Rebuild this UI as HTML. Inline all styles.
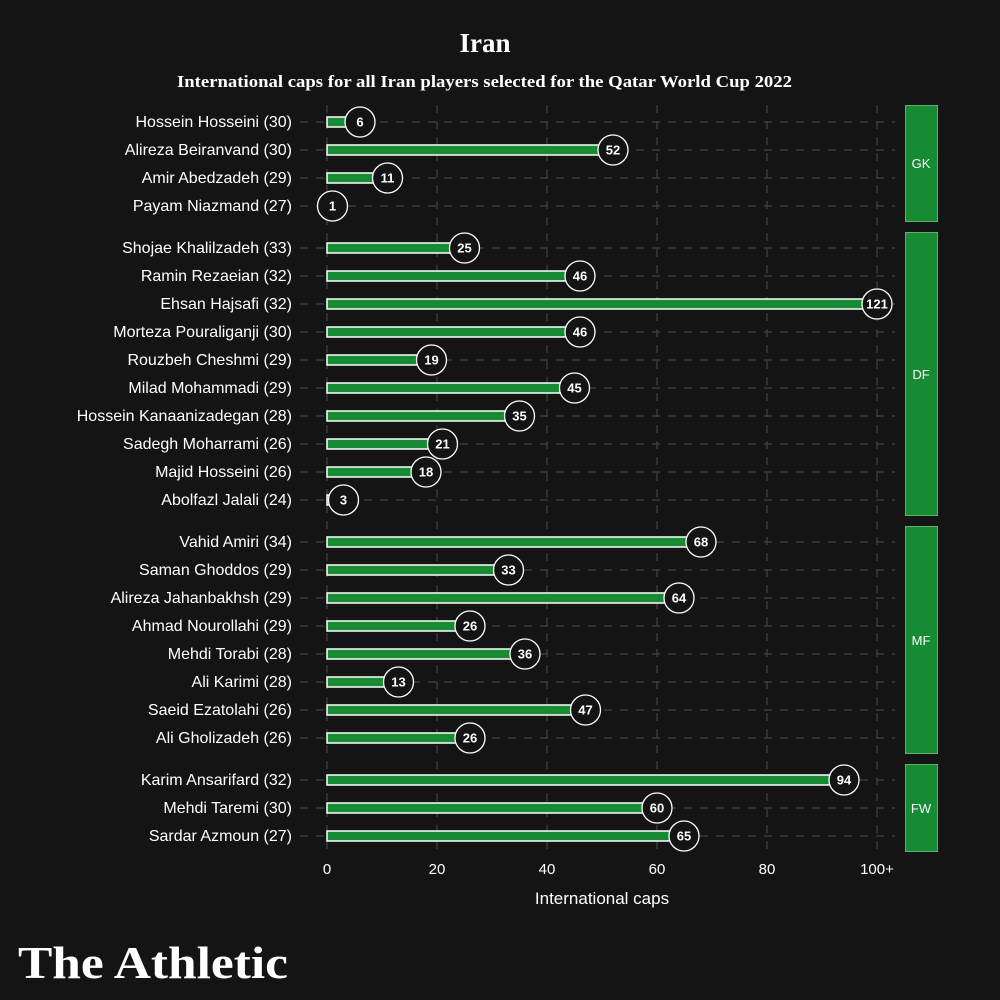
<!DOCTYPE html>
<html><head><meta charset="utf-8"><style>
body{margin:0;background:#141414;}
svg{display:block}
</style></head><body>
<svg width="1000" height="1000" xmlns="http://www.w3.org/2000/svg" font-family="Liberation Sans, sans-serif">
<rect width="1000" height="1000" fill="#141414"/>
<text x="485" y="52" fill="#fff" font-family="Liberation Serif, serif" font-weight="bold" font-size="27" text-anchor="middle">Iran</text>
<text x="177" y="87" fill="#fff" font-family="Liberation Serif, serif" font-weight="bold" font-size="17" textLength="615" lengthAdjust="spacingAndGlyphs">International caps for all Iran players selected for the Qatar World Cup 2022</text>
<g stroke="#444" stroke-width="1.2" stroke-dasharray="8,8">
<line x1="327" y1="105" x2="327" y2="852"/><line x1="437" y1="105" x2="437" y2="852"/><line x1="547" y1="105" x2="547" y2="852"/><line x1="657" y1="105" x2="657" y2="852"/><line x1="767" y1="105" x2="767" y2="852"/><line x1="877" y1="105" x2="877" y2="852"/>
<line x1="300" y1="122" x2="895" y2="122"/><line x1="300" y1="150" x2="895" y2="150"/><line x1="300" y1="178" x2="895" y2="178"/><line x1="300" y1="206" x2="895" y2="206"/>
<line x1="300" y1="248" x2="895" y2="248"/><line x1="300" y1="276" x2="895" y2="276"/><line x1="300" y1="304" x2="895" y2="304"/><line x1="300" y1="332" x2="895" y2="332"/><line x1="300" y1="360" x2="895" y2="360"/><line x1="300" y1="388" x2="895" y2="388"/><line x1="300" y1="416" x2="895" y2="416"/><line x1="300" y1="444" x2="895" y2="444"/><line x1="300" y1="472" x2="895" y2="472"/><line x1="300" y1="500" x2="895" y2="500"/>
<line x1="300" y1="542" x2="895" y2="542"/><line x1="300" y1="570" x2="895" y2="570"/><line x1="300" y1="598" x2="895" y2="598"/><line x1="300" y1="626" x2="895" y2="626"/><line x1="300" y1="654" x2="895" y2="654"/><line x1="300" y1="682" x2="895" y2="682"/><line x1="300" y1="710" x2="895" y2="710"/><line x1="300" y1="738" x2="895" y2="738"/>
<line x1="300" y1="780" x2="895" y2="780"/><line x1="300" y1="808" x2="895" y2="808"/><line x1="300" y1="836" x2="895" y2="836"/>
</g>
<g font-size="16" fill="#fff" text-anchor="end">
<text x="292" y="127">Hossein Hosseini (30)</text><text x="292" y="155">Alireza Beiranvand (30)</text><text x="292" y="183">Amir Abedzadeh (29)</text><text x="292" y="211">Payam Niazmand (27)</text>
<text x="292" y="253">Shojae Khalilzadeh (33)</text><text x="292" y="281">Ramin Rezaeian (32)</text><text x="292" y="309">Ehsan Hajsafi (32)</text><text x="292" y="337">Morteza Pouraliganji (30)</text><text x="292" y="365">Rouzbeh Cheshmi (29)</text><text x="292" y="393">Milad Mohammadi (29)</text><text x="292" y="421">Hossein Kanaanizadegan (28)</text><text x="292" y="449">Sadegh Moharrami (26)</text><text x="292" y="477">Majid Hosseini (26)</text><text x="292" y="505">Abolfazl Jalali (24)</text>
<text x="292" y="547">Vahid Amiri (34)</text><text x="292" y="575">Saman Ghoddos (29)</text><text x="292" y="603">Alireza Jahanbakhsh (29)</text><text x="292" y="631">Ahmad Nourollahi (29)</text><text x="292" y="659">Mehdi Torabi (28)</text><text x="292" y="687">Ali Karimi (28)</text><text x="292" y="715">Saeid Ezatolahi (26)</text><text x="292" y="743">Ali Gholizadeh (26)</text>
<text x="292" y="785">Karim Ansarifard (32)</text><text x="292" y="813">Mehdi Taremi (30)</text><text x="292" y="841">Sardar Azmoun (27)</text>
</g>
<g fill="#178a34" stroke="#fff" stroke-width="1.5">
<rect x="327" y="117" width="33" height="10"/><rect x="327" y="145" width="286" height="10"/><rect x="327" y="173" width="60.5" height="10"/><rect x="327" y="201" width="5.5" height="10"/>
<rect x="327" y="243" width="137.5" height="10"/><rect x="327" y="271" width="253" height="10"/><rect x="327" y="299" width="550" height="10"/><rect x="327" y="327" width="253" height="10"/><rect x="327" y="355" width="104.5" height="10"/><rect x="327" y="383" width="247.5" height="10"/><rect x="327" y="411" width="192.5" height="10"/><rect x="327" y="439" width="115.5" height="10"/><rect x="327" y="467" width="99" height="10"/><rect x="327" y="495" width="16.5" height="10"/>
<rect x="327" y="537" width="374" height="10"/><rect x="327" y="565" width="181.5" height="10"/><rect x="327" y="593" width="352" height="10"/><rect x="327" y="621" width="143" height="10"/><rect x="327" y="649" width="198" height="10"/><rect x="327" y="677" width="71.5" height="10"/><rect x="327" y="705" width="258.5" height="10"/><rect x="327" y="733" width="143" height="10"/>
<rect x="327" y="775" width="517" height="10"/><rect x="327" y="803" width="330" height="10"/><rect x="327" y="831" width="357.5" height="10"/>
</g>
<g fill="#141414" stroke="#fff" stroke-width="1.3">
<circle cx="360" cy="122" r="15"/><circle cx="613" cy="150" r="15"/><circle cx="387.5" cy="178" r="15"/><circle cx="332.5" cy="206" r="15"/>
<circle cx="464.5" cy="248" r="15"/><circle cx="580" cy="276" r="15"/><circle cx="877" cy="304" r="15"/><circle cx="580" cy="332" r="15"/><circle cx="431.5" cy="360" r="15"/><circle cx="574.5" cy="388" r="15"/><circle cx="519.5" cy="416" r="15"/><circle cx="442.5" cy="444" r="15"/><circle cx="426" cy="472" r="15"/><circle cx="343.5" cy="500" r="15"/>
<circle cx="701" cy="542" r="15"/><circle cx="508.5" cy="570" r="15"/><circle cx="679" cy="598" r="15"/><circle cx="470" cy="626" r="15"/><circle cx="525" cy="654" r="15"/><circle cx="398.5" cy="682" r="15"/><circle cx="585.5" cy="710" r="15"/><circle cx="470" cy="738" r="15"/>
<circle cx="844" cy="780" r="15"/><circle cx="657" cy="808" r="15"/><circle cx="684" cy="836" r="15"/>
</g>
<g fill="#fff" font-size="13" font-weight="bold" text-anchor="middle">
<text x="360" y="126.5">6</text><text x="613" y="154.5">52</text><text x="387.5" y="182.5">11</text><text x="332.5" y="210.5">1</text>
<text x="464.5" y="252.5">25</text><text x="580" y="280.5">46</text><text x="877" y="308.5">121</text><text x="580" y="336.5">46</text><text x="431.5" y="364.5">19</text><text x="574.5" y="392.5">45</text><text x="519.5" y="420.5">35</text><text x="442.5" y="448.5">21</text><text x="426" y="476.5">18</text><text x="343.5" y="504.5">3</text>
<text x="701" y="546.5">68</text><text x="508.5" y="574.5">33</text><text x="679" y="602.5">64</text><text x="470" y="630.5">26</text><text x="525" y="658.5">36</text><text x="398.5" y="686.5">13</text><text x="585.5" y="714.5">47</text><text x="470" y="742.5">26</text>
<text x="844" y="784.5">94</text><text x="657" y="812.5">60</text><text x="684" y="840.5">65</text>
</g>
<g font-size="15" fill="#fff" text-anchor="middle">
<text x="327" y="874">0</text><text x="437" y="874">20</text><text x="547" y="874">40</text><text x="657" y="874">60</text><text x="767" y="874">80</text><text x="877" y="874">100+</text>
</g>
<text x="602" y="904" fill="#fff" font-size="17" text-anchor="middle">International caps</text>
<g fill="#178a34" stroke="#5cb070" stroke-width="1">
<rect x="905.5" y="105.5" width="32" height="116"/><rect x="905.5" y="232.5" width="32" height="283"/><rect x="905.5" y="526.5" width="32" height="227"/><rect x="905.5" y="764.5" width="32" height="87"/>
</g>
<g fill="#fff" font-size="13" text-anchor="middle">
<text x="921" y="168">GK</text><text x="921" y="379">DF</text><text x="921" y="645">MF</text><text x="921" y="813">FW</text>
</g>
<text x="18" y="978" fill="#fff" font-family="Liberation Serif, serif" font-weight="bold" font-size="46" textLength="270" lengthAdjust="spacingAndGlyphs">The Athletic</text>
</svg>
</body></html>
